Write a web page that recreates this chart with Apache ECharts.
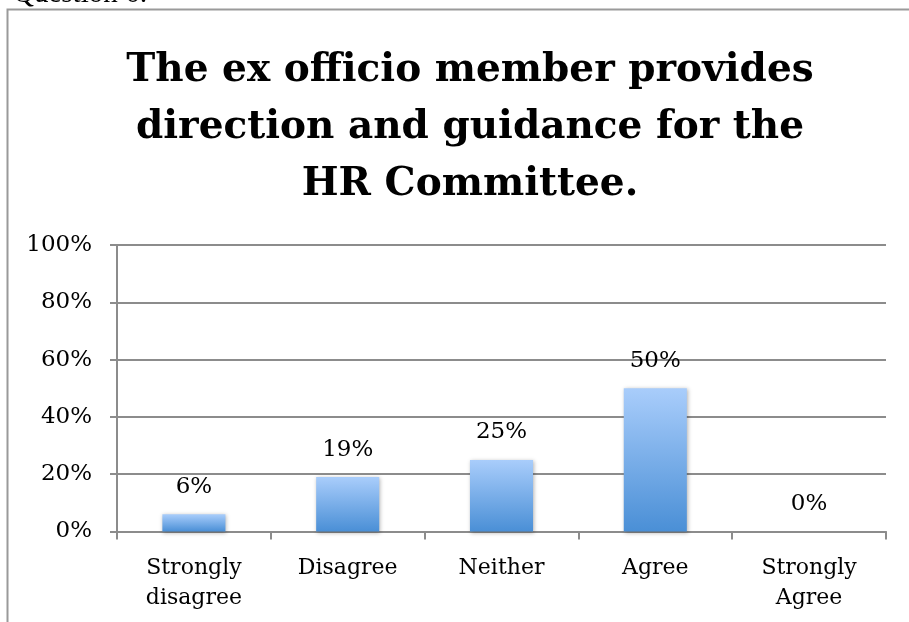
<!DOCTYPE html>
<html>
<head>
<meta charset="utf-8">
<script src="https://cdn.jsdelivr.net/npm/echarts@6/dist/echarts.min.js"></script>
<style>
  html, body { margin: 0; padding: 0; background: #fff; }
  #chart { width: 909px; height: 622px; }
</style>
</head>
<body>
<div id="chart"></div>
<script>
// Survey responses for question 6
const categories = ['Strongly\ndisagree', 'Disagree', 'Neither', 'Agree', 'Strongly\nAgree'];
const shares = [6, 19, 25, 50, 0];
const yTicks = [0, 20, 40, 60, 80, 100];

const titleLines = ['The ex officio member provides', 'direction and guidance for the', 'HR Committee.'];
const questionLabel = 'Question 6:';

const serif = '"DejaVu Serif", serif';
const axisGray = '#8c8c8c';

const chart = echarts.init(document.getElementById('chart'));

chart.setOption({
  backgroundColor: '#ffffff',
  animation: false,
  title: {
    text: titleLines.join('\n'),
    left: 465,
    top: 37,
    textAlign: 'center',
    textStyle: {
      fontFamily: serif,
      fontWeight: 'bold',
      fontSize: 39,
      lineHeight: 57,
      color: '#000'
    }
  },
  graphic: [
    {
      type: 'rect',
      shape: { x: 7.5, y: 9.5, width: 1000, height: 1000 },
      style: { fill: 'none', stroke: '#9a9a9a', lineWidth: 2 },
      silent: true
    },
    {
      type: 'text',
      left: 13,
      top: -20,
      style: {
        text: questionLabel,
        font: '29px "Liberation Serif", serif',
        fill: '#000'
      },
      silent: true
    }
  ],
  grid: {
    left: 117,
    right: 23,
    top: 245,
    bottom: 90.5,
    containLabel: false
  },
  xAxis: {
    type: 'category',
    data: categories,
    boundaryGap: true,
    axisLine: { lineStyle: { color: axisGray, width: 2 } },
    axisTick: { show: true, length: 8, alignWithLabel: false, lineStyle: { color: axisGray, width: 2 } },
    axisLabel: {
      fontFamily: serif,
      fontSize: 22,
      lineHeight: 30,
      color: '#000',
      margin: 22,
      interval: 0
    }
  },
  yAxis: {
    type: 'value',
    min: yTicks[0],
    max: yTicks[yTicks.length - 1],
    interval: yTicks[1] - yTicks[0],
    axisLine: { show: true, lineStyle: { color: axisGray, width: 2 } },
    axisTick: { show: true, length: 7, lineStyle: { color: axisGray, width: 2 } },
    splitLine: { show: true, lineStyle: { color: axisGray, width: 2 } },
    axisLabel: {
      fontFamily: serif,
      fontSize: 23,
      color: '#000',
      margin: 25,
      formatter: v => v + '%'
    }
  },
  series: [{
    type: 'bar',
    data: shares,
    barWidth: '41%',
    itemStyle: {
      color: new echarts.graphic.LinearGradient(0, 0, 0, 1, [
        { offset: 0, color: '#a9cdfb' },
        { offset: 1, color: '#4a8fd6' }
      ]),
      shadowColor: 'rgba(0,0,0,0.3)',
      shadowBlur: 4,
      shadowOffsetX: 1,
      shadowOffsetY: 1
    },
    label: {
      show: true,
      position: 'top',
      distance: 16,
      fontFamily: serif,
      fontSize: 23,
      color: '#000',
      formatter: p => p.value + '%'
    }
  }]
});
</script>
</body>
</html>
